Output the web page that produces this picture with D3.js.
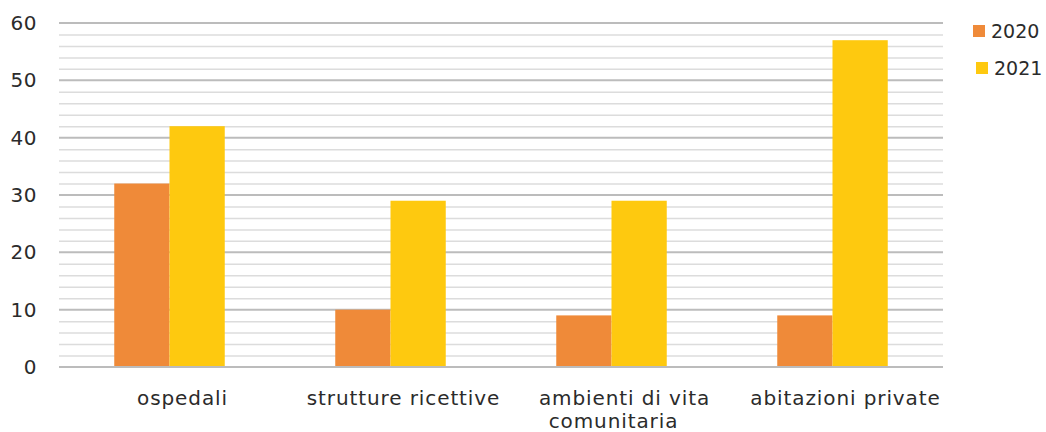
<!DOCTYPE html>
<html><head><meta charset="utf-8">
<script src="https://cdn.jsdelivr.net/npm/d3@7"></script>
<style>body{margin:0;background:#fff;}svg{display:block;font-family:"DejaVu Sans",sans-serif;}</style>
</head><body>
<svg id="c" width="1046" height="432"></svg>
<script>
const categories = [["ospedali"],["strutture ricettive"],["ambienti di vita","comunitaria"],["abitazioni private"]];
const seriesNames = ["2020","2021"];
const values2020 = [32,10,9,9];
const values2021 = [42,29,29,57];
const yTicks = [0,10,20,30,40,50,60];
const colors = ["#EF8A39","#FEC90F"];

const svg = d3.select("#c");
const m = {l:59, r:943, t:23, b:367};
const x = d3.scaleBand().domain(d3.range(categories.length)).range([m.l,m.r]).paddingInner(0.5).paddingOuter(0.25);
const xs = d3.scaleBand().domain(seriesNames).range([0,x.bandwidth()]);
const y = d3.scaleLinear().domain([0,60]).range([m.b,m.t]);

// minor gridlines
const minor = d3.range(0,61,2).filter(v=>v%10!==0);
svg.append("g").selectAll("line").data(minor).join("line")
  .attr("x1",m.l).attr("x2",m.r).attr("y1",d=>y(d)+0.5).attr("y2",d=>y(d)+0.5)
  .attr("stroke","#dcdcdc").attr("stroke-width",1.5);
svg.append("g").selectAll("line").data(yTicks.filter(v=>v>0)).join("line")
  .attr("x1",m.l).attr("x2",m.r).attr("y1",d=>y(d)).attr("y2",d=>y(d))
  .attr("stroke","#bcbcbc").attr("stroke-width",2);

// bars
const data = categories.map((c,i)=>({i, vals:[values2020[i],values2021[i]]}));
const g = svg.append("g").selectAll("g").data(data).join("g").attr("transform",d=>`translate(${x(d.i)},0)`);
g.selectAll("rect").data(d=>d.vals.map((v,k)=>({v,k}))).join("rect")
  .attr("x",d=>xs(seriesNames[d.k])).attr("width",xs.bandwidth())
  .attr("y",d=>y(d.v)).attr("height",d=>y(0)-y(d.v))
  .attr("fill",d=>colors[d.k]);

// baseline
svg.append("line").attr("x1",m.l).attr("x2",m.r).attr("y1",y(0)).attr("y2",y(0)).attr("stroke","#bcbcbc").attr("stroke-width",2);

// y labels
svg.append("g").selectAll("text").data(yTicks).join("text")
  .attr("x",37).attr("y",d=>y(d)).attr("dy","0.35em").attr("text-anchor","end")
  .attr("font-size",20).attr("letter-spacing",0.5).attr("fill","#2b2b2b").text(d=>d);

// x labels
const xl = svg.append("g").selectAll("text").data(categories).join("text")
  .attr("text-anchor","middle").attr("font-size",20).attr("letter-spacing",0.9).attr("fill","#2b2b2b")
  .attr("transform",(d,i)=>`translate(${x(i)+x.bandwidth()/2+13},405)`);
xl.selectAll("tspan").data(d=>d).join("tspan").attr("x",(d,j)=>j? -11:0).attr("dy",(d,j)=>j? "1.15em":0).text(d=>d);

// legend
const lg = svg.append("g").selectAll("g").data(seriesNames).join("g")
  .attr("transform",(d,i)=>`translate(${973+i*3},${25+i*37})`);
lg.append("rect").attr("width",12).attr("height",12).attr("fill",(d,i)=>colors[i]);
lg.append("text").attr("x",18).attr("y",6).attr("dy","0.35em").attr("font-size",19).attr("fill","#2b2b2b").text(d=>d);
</script>
</body></html>
